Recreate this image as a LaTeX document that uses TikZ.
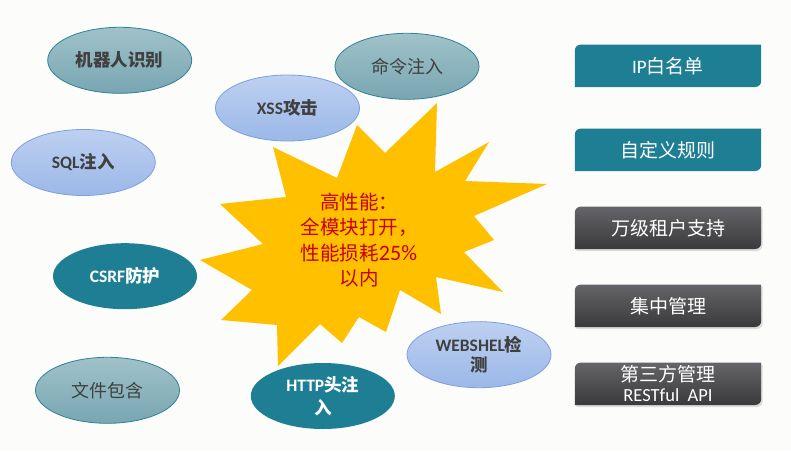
\documentclass[tikz,border=0pt]{standalone}
\usepackage{fontspec}
\setmainfont{Carlito}
\newfontfamily\cjk{Noto Sans CJK SC}
\newfontfamily\lat{Carlito}
\usetikzlibrary{shapes.geometric,shadows,backgrounds,calc}
\definecolor{bgc}{RGB}{252,252,250}
\definecolor{tealc}{RGB}{30,127,148}
\definecolor{tgtop}{RGB}{160,194,201}
\definecolor{tgbot}{RGB}{120,166,178}
\definecolor{tgborder}{RGB}{45,130,150}
\definecolor{bltop}{RGB}{190,208,241}
\definecolor{blbot}{RGB}{155,184,232}
\definecolor{blborder}{RGB}{125,160,220}
\definecolor{dktop}{RGB}{100,101,104}
\definecolor{dkbot}{RGB}{58,58,61}
\definecolor{starc}{RGB}{255,192,0}
\definecolor{starred}{RGB}{200,0,0}
\definecolor{txtgrey}{RGB}{64,64,64}
\newcommand\dbox[2]{%
  \path[#2] ($(#1.north west)+(0,-6)$) arc[start angle=180,end angle=90,radius=6]
    -- (#1.north east) -- ($(#1.south east)+(0,6)$)
    arc[start angle=0,end angle=-90,radius=6] -- (#1.south west) -- cycle;}
\begin{document}
\begin{tikzpicture}[x=1pt,y=1pt,
  ell/.style={ellipse, minimum width=144pt, minimum height=66pt, inner sep=0pt,
    line width=0.8pt, align=center, font=\cjk\fontsize{18}{21}\selectfont},
  greyell/.style={ell, draw=tgborder, top color=tgtop, bottom color=tgbot, text=txtgrey},
  blueell/.style={ell, draw=blborder, top color=bltop, bottom color=blbot, text=txtgrey},
  tealell/.style={ell, fill=tealc, draw=none, text=white},
  boldell/.style={font=\cjk\bfseries\fontsize{17.5}{21}\selectfont},
  boxnode/.style={minimum width=186pt, minimum height=42pt, inner sep=0pt,
    text=white, align=center, font=\cjk\fontsize{19}{22}\selectfont},
  tealfill/.style={fill=tealc},
  darkfill/.style={top color=dktop, bottom color=dkbot,
    drop shadow={shadow xshift=1.5pt, shadow yshift=-2pt, opacity=0.25}}
]
\useasboundingbox (0,0) rectangle (791,451);
\begin{scope}[on background layer]
  \fill[bgc] (0,0) rectangle (791,451);
\end{scope}

% star
\fill[starc] (437,348) -- (435,279) -- (489,309) -- (465,270) -- (547,267)
  -- (474,235) -- (494,211) -- (464,199) -- (503,159) -- (436,174)
  -- (441,137) -- (400,161) -- (386,119) -- (359,134) -- (342,108)
  -- (320,127) -- (278,85) -- (277,126) -- (221,131) -- (252,161)
  -- (200,191) -- (263,207) -- (220,247) -- (286,254) -- (273,304)
  -- (337,273) -- (357,326) -- (385,298) -- cycle;
\node[text=starred, align=center, font=\cjk\fontsize{19.5}{25.5}\selectfont]
  (perf) at (359,211) {高性能：\\全模块打开，\\性能损耗{\lat\fontsize{22}{25}\selectfont 25\%}\\以内};

% ellipses
\node[greyell, boldell] (robot) at (119.7,390.7) {机器人识别};
\node[greyell] (cmd) at (407,384.7) {命令注入};
\node[blueell, boldell] (xss) at (287.5,343) {{\lat XSS}攻击};
\node[blueell, boldell] (sql) at (83.3,288.5) {{\lat SQL}注入};
\node[tealell, boldell] (csrf) at (125,174.8) {{\lat CSRF}防护};
\node[blueell, font=\cjk\bfseries\fontsize{17.5}{20.5}\selectfont] (websh) at (479,96.3) {{\lat WEBSHEL}检\\测};
\node[greyell] (file) at (107.5,60.7) {文件包含};
\node[tealell, font=\cjk\bfseries\fontsize{17.5}{23}\selectfont] (http) at (322.8,55) {{\lat HTTP}头注\\入};

% right boxes
\node[boxnode] (ip) at (668,385.2) {{\lat IP}白名单};
\node[boxnode] (rule) at (668,301.2) {自定义规则};
\node[boxnode] (tenant) at (668,223.2) {万级租户支持};
\node[boxnode] (central) at (668,145.2) {集中管理};
\node[boxnode, font=\cjk\fontsize{19}{22}\selectfont] (third) at (668,67.2)
  {第三方管理\\[-2pt]{\lat\fontsize{18.5}{19}\selectfont RESTful\ \ API}};
\begin{scope}[on background layer]
  \dbox{ip}{tealfill}
  \dbox{rule}{tealfill}
  \dbox{tenant}{darkfill}
  \dbox{central}{darkfill}
  \dbox{third}{darkfill}
\end{scope}
\end{tikzpicture}
\end{document}
